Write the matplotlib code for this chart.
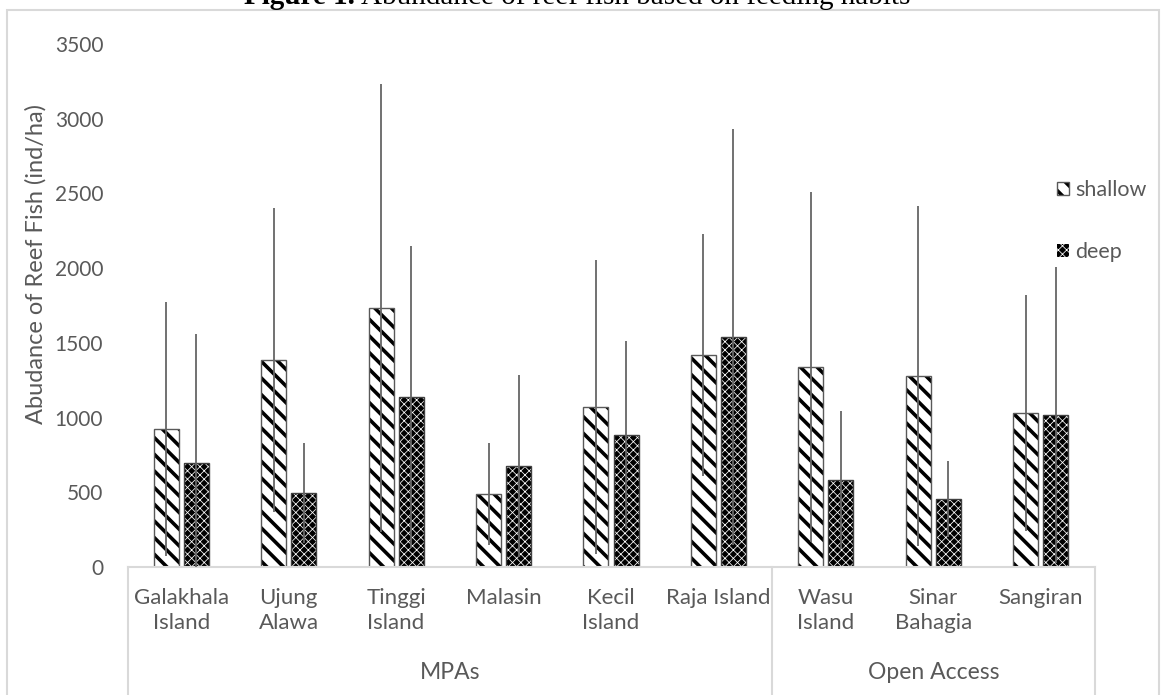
import matplotlib
matplotlib.use("Agg")
import matplotlib.pyplot as plt
from matplotlib.patches import Rectangle
from matplotlib.lines import Line2D
import numpy as np

# ---- data ----
sites = ["Galakhala\nIsland", "Ujung\nAlawa", "Tinggi\nIsland", "Malasin", "Kecil\nIsland",
         "Raja Island", "Wasu\nIsland", "Sinar\nBahagia", "Sangiran"]
groups = ["MPAs", "Open Access"]
group_sizes = [6, 3]
shallow = [924, 1386, 1733, 489, 1071, 1419, 1339, 1278, 1031]
shallow_sd = [849, 1017, 1499, 341, 984, 810, 1171, 1138, 789]
deep = [696, 495, 1138, 676, 884, 1539, 582, 455, 1017]
deep_sd = [863, 335, 1010, 609, 629, 1393, 462, 254, 991]
yticks = [0, 500, 1000, 1500, 2000, 2500, 3000, 3500]

W, H = 1166, 695
plt.rcParams['font.family'] = ['Lato', 'DejaVu Sans']
plt.rcParams['hatch.linewidth'] = 2.6
fig = plt.figure(figsize=(W / 100, H / 100), dpi=100)
ax = fig.add_axes([127.5 / W, 1 - 567 / H, 967 / W, 523 / H])

x = np.arange(len(sites)) + 0.5
bw = 0.233
off = 0.14
txt = '#595959'
grid = '#d9d9d9'
deep_hatch_lw = 0.55


def style_deep(p):
    if hasattr(p, 'set_hatch_linewidth'):
        p.set_hatch_linewidth(deep_hatch_lw)


b1 = ax.bar(x - off, shallow, bw, facecolor='white', edgecolor='#595959', linewidth=1.0,
            hatch='\\\\', zorder=2)
for p in b1:
    p._hatch_color = (0, 0, 0, 1)
b2 = ax.bar(x + off, deep, bw, facecolor='black', edgecolor='white', linewidth=0,
            hatch='xxxx', zorder=2)
for p in b2:
    style_deep(p)
ax.bar(x + off, deep, bw, facecolor='none', edgecolor='#404040', linewidth=1.0, zorder=2.5)

ax.errorbar(x - off, shallow, yerr=shallow_sd, fmt='none', ecolor='#666666', elinewidth=1.3,
            capsize=0, zorder=3)
ax.errorbar(x + off, deep, yerr=deep_sd, fmt='none', ecolor='#666666', elinewidth=1.3,
            capsize=0, zorder=3)

ax.set_xlim(0, len(sites))
ax.set_ylim(0, 3500)
ax.set_yticks(yticks)
ax.set_yticklabels([str(v) for v in yticks], fontsize=15, color=txt)
ax.tick_params(axis='y', length=0, pad=17.5)
ax.set_xticks([])
for s in ['top', 'right', 'left']:
    ax.spines[s].set_visible(False)
ax.spines['bottom'].set_color(grid)
ax.spines['bottom'].set_linewidth(1.5)

# category labels
xt = ax.get_xaxis_transform()
for xi, s in zip(x, sites):
    ax.text(xi, -0.040, s, transform=xt, ha='center', va='top', fontsize=16,
            color=txt, linespacing=1.32)
# group boxes
bounds = np.concatenate([[0], np.cumsum(group_sizes)])
for b in bounds:
    ax.add_line(Line2D([b, b], [0, -0.3], transform=xt, color=grid, lw=1.5, clip_on=False))
for g, a, b in zip(groups, bounds[:-1], bounds[1:]):
    ax.text((a + b) / 2, -0.201, g, transform=xt, ha='center', va='center', fontsize=16.5,
            color=txt)

# y label
fig.text(36 / W, 1 - 264 / H, "Abudance of Reef Fish (ind/ha)", rotation=90, ha='center',
         va='center', fontsize=17, color=txt)

# legend
handles = [b1[0], b2[0]]
leg = fig.legend(handles, ['shallow', 'deep'], loc='upper left',
                 bbox_to_anchor=(1057 / W, 1 - 180 / H), bbox_transform=fig.transFigure,
                 frameon=False, fontsize=15.5, labelcolor=txt, handlelength=0.55,
                 handleheight=0.55, handletextpad=0.3, labelspacing=1.95, borderpad=0,
                 borderaxespad=0)
lh = leg.legend_handles
lh[0]._hatch_color = (0, 0, 0, 1)
style_deep(lh[1])
lh[1].set_facecolor('black')

# chart border
fig.patches.append(Rectangle((7 / W, -0.1), 1152 / W, 1.1 - 10 / H, transform=fig.transFigure,
                             fill=False, edgecolor=grid, lw=1.5))

# title (partially cut off at top)
fig.text(355 / W, 1 - 4 / H, "Figure 1.", ha='right', va='baseline', fontsize=21,
         fontweight='bold', family='Liberation Serif', color='black')
fig.text(361 / W, 1 - 4 / H, "Abundance of reef fish based on feeding habits", ha='left',
         va='baseline', fontsize=21, family='Liberation Serif', color='black')

fig.savefig("out.png", dpi=100)
